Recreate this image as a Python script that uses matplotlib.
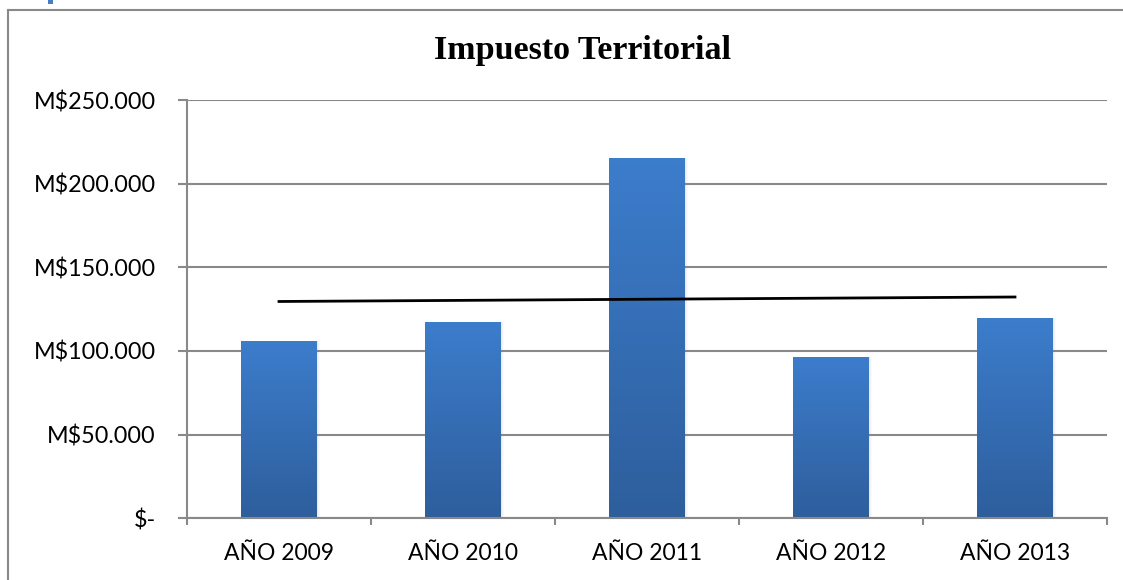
import numpy as np
import matplotlib
matplotlib.use("Agg")
import matplotlib.pyplot as plt
from matplotlib.patches import Rectangle
from matplotlib.lines import Line2D
from matplotlib.ticker import FuncFormatter

# values (M$)
years = ["AÑO 2009", "AÑO 2010", "AÑO 2011", "AÑO 2012", "AÑO 2013"]
recaudacion = [105900, 117300, 215300, 96400, 119700]
y_ticks = [0, 50000, 100000, 150000, 200000, 250000]

title = "Impuesto Territorial"
grid_color = "#898989"
top_color = np.array([0x3C, 0x7D, 0xCC]) / 255
bottom_color = np.array([0x2E, 0x5E, 0x9C]) / 255

plt.rcParams["font.family"] = ["Lato", "DejaVu Sans"]

fig = plt.figure(figsize=(11.23, 5.80), dpi=100)
ax = fig.add_axes([187 / 1123, 1 - 518.3 / 580, 920 / 1123, 418.3 / 580])

x = np.arange(len(years))
bars = ax.bar(x, recaudacion, width=0.41, color="none", zorder=3)

# gradient fill + soft shadow for each bar
grad = np.linspace(0, 1, 256)[:, None, None]
grad_img = top_color * (1 - grad) + bottom_color * grad
for b in bars:
    bx, bw, bh = b.get_x(), b.get_width(), b.get_height()
    for k, a in enumerate([0.08, 0.05, 0.03]):
        off = 0.006 * (k + 1)
        ax.add_patch(Rectangle((bx + off, 0), bw, bh - off * 8000, color="#7f7f7f",
                               alpha=a, lw=0, zorder=2))
    im = ax.imshow(grad_img, extent=(bx, bx + bw, 0, bh), aspect="auto",
                   origin="upper", zorder=3)
    im.set_clip_path(b)

# linear trend line
coef = np.polyfit(x, recaudacion, 1)
ax.plot(x, np.polyval(coef, x), color="black", lw=2, zorder=4)

ax.set_xlim(-0.5, len(years) - 0.5)
ax.set_ylim(0, 250000)
ax.set_yticks(y_ticks)
ax.yaxis.set_major_formatter(FuncFormatter(
    lambda v, p: "$-" if v == 0 else "M$" + f"{int(v):,}".replace(",", ".")))
ax.set_xticks(x)
ax.set_xticklabels(years)
ax.set_xticks(np.arange(-0.5, len(years)), minor=True)

ax.grid(axis="y", color=grid_color, lw=1.5, zorder=1)
for s in ["top", "right"]:
    ax.spines[s].set_visible(False)
for s in ["left", "bottom"]:
    ax.spines[s].set_color(grid_color)
    ax.spines[s].set_linewidth(1.5)
    ax.spines[s].set_zorder(5)

ax.tick_params(axis="y", length=6.5, width=1.5, color=grid_color, pad=16, labelsize=16.8)
ax.tick_params(axis="x", which="major", length=0, pad=18, labelsize=16.5)
ax.tick_params(axis="x", which="minor", length=5, width=1.5, color=grid_color)

fig.text(583 / 1123, 1 - 51 / 580, title, ha="center", va="center",
         fontsize=24.5, fontweight="bold", family=["Liberation Serif", "DejaVu Serif"])

# outer chart frame (partly cut off in the source) and the blue fragment above it
fig.add_artist(Line2D([8 / 1123, 8 / 1123], [0, 1 - 10 / 580], color=grid_color,
                      lw=1.5, transform=fig.transFigure))
fig.add_artist(Line2D([8 / 1123, 1], [1 - 10 / 580, 1 - 10 / 580], color=grid_color,
                      lw=1.5, transform=fig.transFigure))
fig.add_artist(Rectangle((48 / 1123, 1 - 4 / 580), 5 / 1123, 4 / 580,
                         color="#4A7CC0", lw=0, transform=fig.transFigure))

fig.savefig("out.png", dpi=100)
